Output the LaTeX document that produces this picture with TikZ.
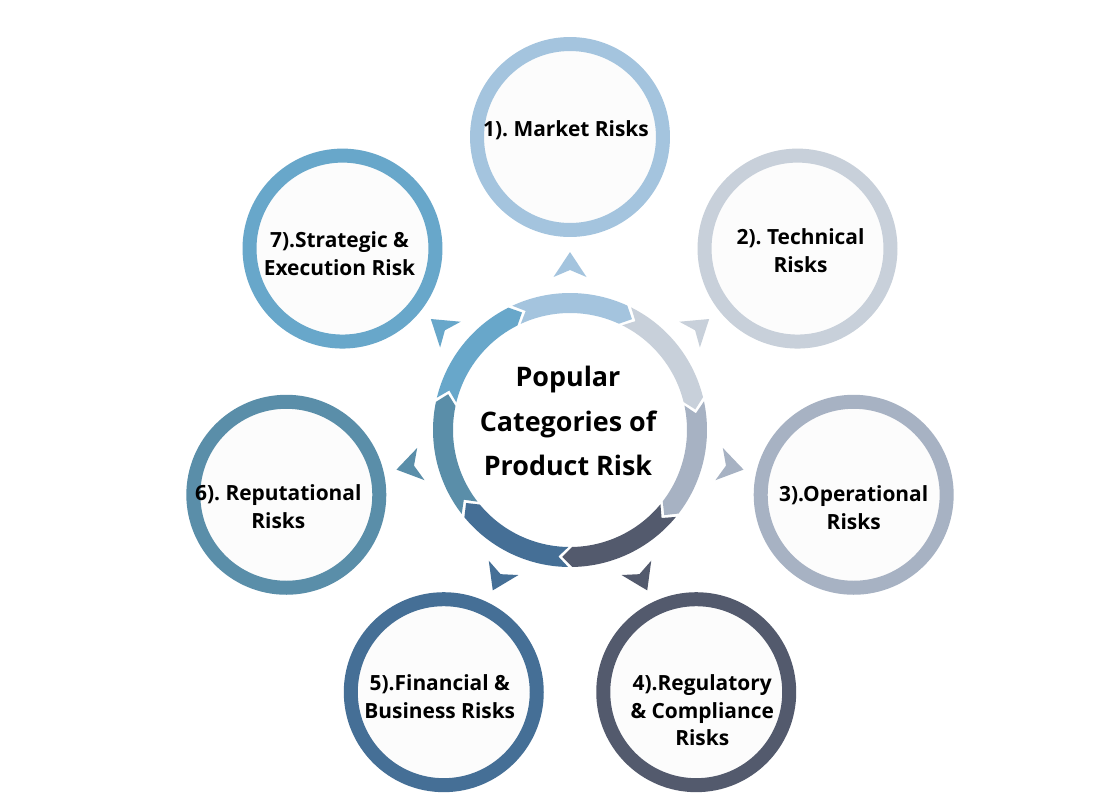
\documentclass[tikz,border=0pt]{standalone}
\usepackage{fontspec}
\setmainfont{Open Sans}
\usepackage{tikz}
\usetikzlibrary{positioning, calc}
\usepackage{xcolor}
\frenchspacing

\definecolor{marketc}{HTML}{A4C4DE}
\definecolor{techc}{HTML}{C8D0DA}
\definecolor{operc}{HTML}{A7B2C3}
\definecolor{regc}{HTML}{535A6D}
\definecolor{finc}{HTML}{456F96}
\definecolor{repc}{HTML}{5A8EA9}
\definecolor{stratc}{HTML}{68A7CA}

\tikzset{
  riskring/.style={circle, draw=#1, line width=0.28cm, fill=white!99!black,
    minimum size=3.72cm, inner sep=0pt},
  risktext/.style={align=center, inner sep=0pt,
    font=\fontsize{11.9}{15.9}\selectfont\bfseries},
  centertext/.style={align=center, font=\fontsize{15.3}{25.5}\selectfont\bfseries}
}

\begin{document}
\begin{tikzpicture}[x=0.02cm, y=0.02cm]

    % ==================== CANVAS ====================
    \useasboundingbox[fill=white] (-570,-376) rectangle (534,430);

    % ==================== CENTRAL CYCLE RING ====================
    % Seven arc segments, clockwise, notch at the tail and point at the head
    \foreach \c [count=\k from 0] in {marketc, techc, operc, regc, finc, repc, stratc} {
      \pgfmathsetmacro{\ta}{90-51.4286*\k+25.714}
      \pgfmathsetmacro{\tb}{90-51.4286*\k-25.714}
      \fill[\c] ({\ta-0.8}:137) arc[start angle=\ta-0.8, end angle=\tb+1, radius=137]
        -- ({\tb-3.5}:127) -- ({\tb+1}:117)
        arc[start angle=\tb+1, end angle=\ta-0.8, radius=117]
        -- ({\ta-5.3}:127) -- cycle;
    }

    % ==================== SMALL POINTERS ====================
    \foreach \c [count=\k from 0] in {marketc, techc, operc, regc, finc, repc, stratc} {
      \pgfmathsetmacro{\th}{90-51.4286*\k}
      \fill[\c, rotate=\th] (178,0) -- (153,16.5) -- (160,0) -- (153,-16.5) -- cycle;
    }

    % ==================== CENTRE TEXT ====================
    \node[centertext] (center) at (-2,9) {Popular\\Categories of\\Product Risk};

    % ==================== RISK CATEGORIES ====================
    \node[riskring=marketc] (market) at (90:293) {};
    \node[riskring=techc] (technical) at (38.57:291) {};
    \node[riskring=operc] (operational) at (-12.86:291) {};
    \node[riskring=regc] (regulatory) at (-64.29:291) {};
    \node[riskring=finc] (financial) at (-115.71:291) {};
    \node[riskring=repc] (reputational) at (-167.14:291) {};
    \node[riskring=stratc] (strategic) at (141.43:291) {};

    % labels inside the rings
    \node[risktext] (market-t) at ([shift={(-4,7)}]market) {1). Market Risks};
    \node[risktext] (technical-t) at ([shift={(3,-2)}]technical) {2). Technical\\Risks};
    \node[risktext] (operational-t) at ([shift={(0,-13)}]operational) {3).Operational\\Risks};
    \node[risktext] (regulatory-t) at ([shift={(6,-18)}]regulatory) {4).Regulatory\\\& Compliance\\Risks};
    \node[risktext] (financial-t) at ([shift={(-4,-4)}]financial) {5).Financial \&\\Business Risks};
    \node[risktext] (reputational-t) at ([shift={(-8,-12)}]reputational) {6). Reputational\\Risks};
    \node[risktext] (strategic-t) at ([shift={(-3,-5)}]strategic) {7).Strategic \&\\Execution Risk};

\end{tikzpicture}
\end{document}
